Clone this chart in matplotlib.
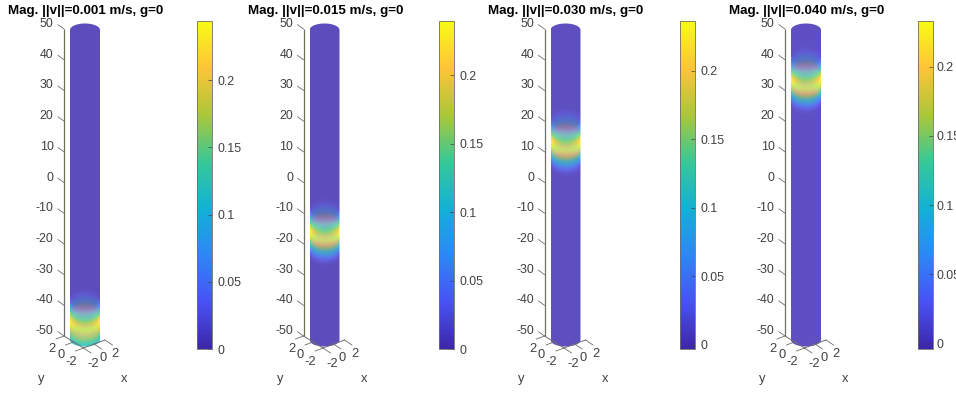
import numpy as np
import matplotlib
matplotlib.use("Agg")
import matplotlib.pyplot as plt
from matplotlib.colors import LinearSegmentedColormap, Normalize
from matplotlib.cm import ScalarMappable
from matplotlib.patches import PathPatch
from matplotlib.path import Path

plt.rcParams['font.family'] = ['Liberation Sans', 'DejaVu Sans']

# ---- data ----
titles = ["Mag. ||v||=0.001 m/s, g=0", "Mag. ||v||=0.015 m/s, g=0",
          "Mag. ||v||=0.030 m/s, g=0", "Mag. ||v||=0.040 m/s, g=0"]
z_ticks = [50, 40, 30, 20, 10, 0, -10, -20, -30, -40, -50]
cbar_ticks = [0, 0.05, 0.1, 0.15, 0.2]
cbar_labels = ["0", "0.05", "0.1", "0.15", "0.2"]
vmin_values = [0.0, 0.0, -0.003, -0.004]
vmax_values = [0.244, 0.2397, 0.2365, 0.233]

z1 = [-50, -49, -48, -47, -46, -45, -44, -43, -42, -41, -40, -39, -38, -37, -36, -35]
m1 = [0.11, 0.125, 0.145, 0.17, 0.195, 0.222, 0.24, 0.222, 0.185, 0.145, 0.11, 0.075, 0.04, 0.018, 0.006, 0.003]
z2 = [-24, -23, -22, -21, -20, -19, -18, -17, -16, -15, -14, -13, -12, -11, -10, -9, -8, -7, -6]
m2 = [0.003, 0.006, 0.018, 0.04, 0.075, 0.11, 0.145, 0.185, 0.222, 0.238, 0.222, 0.185, 0.145, 0.11, 0.075, 0.04, 0.018, 0.006, 0.003]
z3 = [5, 6, 7, 8, 9, 10, 11, 12, 13, 14, 15, 16, 17, 18, 19, 20, 21, 22, 23]
m3 = [0.003, 0.006, 0.018, 0.04, 0.075, 0.11, 0.145, 0.185, 0.22, 0.235, 0.22, 0.185, 0.145, 0.11, 0.075, 0.04, 0.018, 0.006, 0.003]
z4 = [25, 26, 27, 28, 29, 30, 31, 32, 33, 34, 35, 36, 37, 38, 39, 40, 41, 42, 43]
m4 = [0.003, 0.006, 0.018, 0.04, 0.075, 0.11, 0.145, 0.185, 0.218, 0.232, 0.218, 0.185, 0.145, 0.11, 0.075, 0.04, 0.018, 0.006, 0.003]
profiles = [(z1, m1), (z2, m2), (z3, m3), (z4, m4)]
floor_y_labels = ["2", "0", "-2"]
floor_x_labels = ["-2", "0", "2"]

# ---- style ----
W, H = 956, 394
parula = LinearSegmentedColormap.from_list("parula", [
    (0.2422, 0.1504, 0.6603), (0.2810, 0.3228, 0.9579), (0.1786, 0.5289, 0.9682),
    (0.0689, 0.6948, 0.8394), (0.2161, 0.7843, 0.5923), (0.6720, 0.7793, 0.2227),
    (0.9970, 0.7659, 0.2199), (0.9769, 0.9839, 0.0805)])
offsets = [0, 239.5, 480.5, 721]
cbar_boxes = [(197, 212), (438.5, 454), (679.5, 695), (917.5, 932.5)]
cbar_pads = [4, 4, 4, 3]
GREY = "#404040"
LINE = "#6e6e6e"
FS = 8.9
R = 3.0
K = 2.1
K_BAND = 2.9
SURF_ALPHA = 0.6

fig = plt.figure(figsize=(W / 100, H / 100), dpi=100)


def ax_px(x0, y0, x1, y1, **kw):
    return fig.add_axes([x0 / W, 1 - y1 / H, (x1 - x0) / W, (y1 - y0) / H], **kw)


for i, off in enumerate(offsets):
    norm = Normalize(vmin_values[i], vmax_values[i])
    zs, ms = profiles[i]

    # cylinder
    cx0, cx1 = 70 + off, 100 + off
    top_px, bot_px = 22.0, 349.0
    ztop = 50 + (30 - top_px) / 3.1
    zbot = -50 - (bot_px - 340) / 3.1
    ax = ax_px(cx0, top_px, cx1, bot_px)
    ax.set_xlim(-R, R)
    ax.set_ylim(zbot, ztop)
    ax.axis("off")
    xg = np.linspace(-R, R, 121)
    yg = np.linspace(ztop, zbot, 1300)
    X, Y = np.meshgrid(xg, yg)
    s = np.sqrt(np.clip(1 - (X / R) ** 2, 0, 1))
    front = np.interp(np.clip(Y + K_BAND * s, -50, 50), zs, ms, left=0.003, right=0.003)
    back = np.interp(np.clip(Y - K_BAND * s, -50, 50), zs, ms, left=0.003, right=0.003)
    cb = parula(norm(back))[..., :3]
    cf = parula(norm(front))[..., :3]
    rgb = np.ones_like(cb)
    rgb = rgb * (1 - SURF_ALPHA) + cb * SURF_ALPHA
    rgb = rgb * (1 - SURF_ALPHA) + cf * SURF_ALPHA
    im = ax.imshow(rgb, extent=(-R, R, zbot, ztop), aspect="auto",
                   interpolation="bilinear", origin="upper")
    t = np.linspace(0, np.pi, 60)
    top_edge = np.c_[R * np.cos(t), 50 + K * np.sin(t)]
    bot_edge = np.c_[-R * np.cos(t), -50 - K * np.sin(t)]
    verts = np.vstack([top_edge, bot_edge, top_edge[:1]])
    patch = PathPatch(Path(verts), transform=ax.transData, fc="none", ec="none")
    ax.add_patch(patch)
    im.set_clip_path(patch)

    # 3-D style frame: x in panel pixels, y in z units
    fr = ax_px(off, 0, off + 150, H)
    fr.patch.set_alpha(0)
    fr.axis("off")
    fr.set_xlim(0, 150)
    z_of = lambda py: 50 - (py - 29) / 3.07
    fr.set_ylim(z_of(H), z_of(0))
    fr.plot([64, 64], [50, -50], color=LINE, lw=0.9, solid_capstyle="butt")
    for z in z_ticks:
        fr.plot([58, 64], [z + 4.3 / 3.07, z], color=LINE, lw=0.6)
        fr.text(53.5, z + 1.6, str(z), ha="right", va="center", fontsize=FS, color=GREY)
    # floor lines and ticks
    fr.plot([64, 83.5], [-50, z_of(348)], color=LINE, lw=0.7)
    fr.plot([83.5, 105], [z_of(348), z_of(340)], color=LINE, lw=0.7)
    for px, py in [(64, 336), (73.5, 342), (83.5, 348)]:
        fr.plot([px, px - 8], [z_of(py), z_of(py + 3)], color=LINE, lw=0.6)
    for px, py in [(83.5, 348), (94, 344), (105, 340)]:
        fr.plot([px, px + 7.5], [z_of(py), z_of(py + 5)], color=LINE, lw=0.6)
    for lab, px, py in zip(floor_y_labels, [52, 61, 71], [349, 355, 362]):
        fr.text(px, z_of(py), lab, ha="center", va="center", fontsize=FS + 0.4, color=GREY)
    for lab, px, py in zip(floor_x_labels, [93, 103, 115], [364, 358, 354]):
        fr.text(px, z_of(py), lab, ha="center", va="center", fontsize=FS + 0.4, color=GREY)
    fr.text(41, z_of(379), "y", ha="center", va="center", fontsize=FS + 0.4, color=GREY)
    fr.text(124.5, z_of(379), "x", ha="center", va="center", fontsize=FS + 0.4, color=GREY)
    fr.text(8, z_of(11.5), titles[i], ha="left", va="center", fontsize=9.6,
            fontweight="bold", color="black")

    # colour bar
    bx0, bx1 = cbar_boxes[i]
    cax = ax_px(bx0, 21, bx1, 349)
    cbar = fig.colorbar(ScalarMappable(norm=norm, cmap=parula), cax=cax)
    cbar.set_ticks(cbar_ticks, labels=cbar_labels)
    cbar.ax.tick_params(direction="in", length=3, width=0.5, color=GREY,
                        labelsize=FS, labelcolor=GREY, pad=cbar_pads[i])
    cbar.outline.set_edgecolor(LINE)
    cbar.outline.set_linewidth(0.6)

fig.savefig("out.png", dpi=100)
